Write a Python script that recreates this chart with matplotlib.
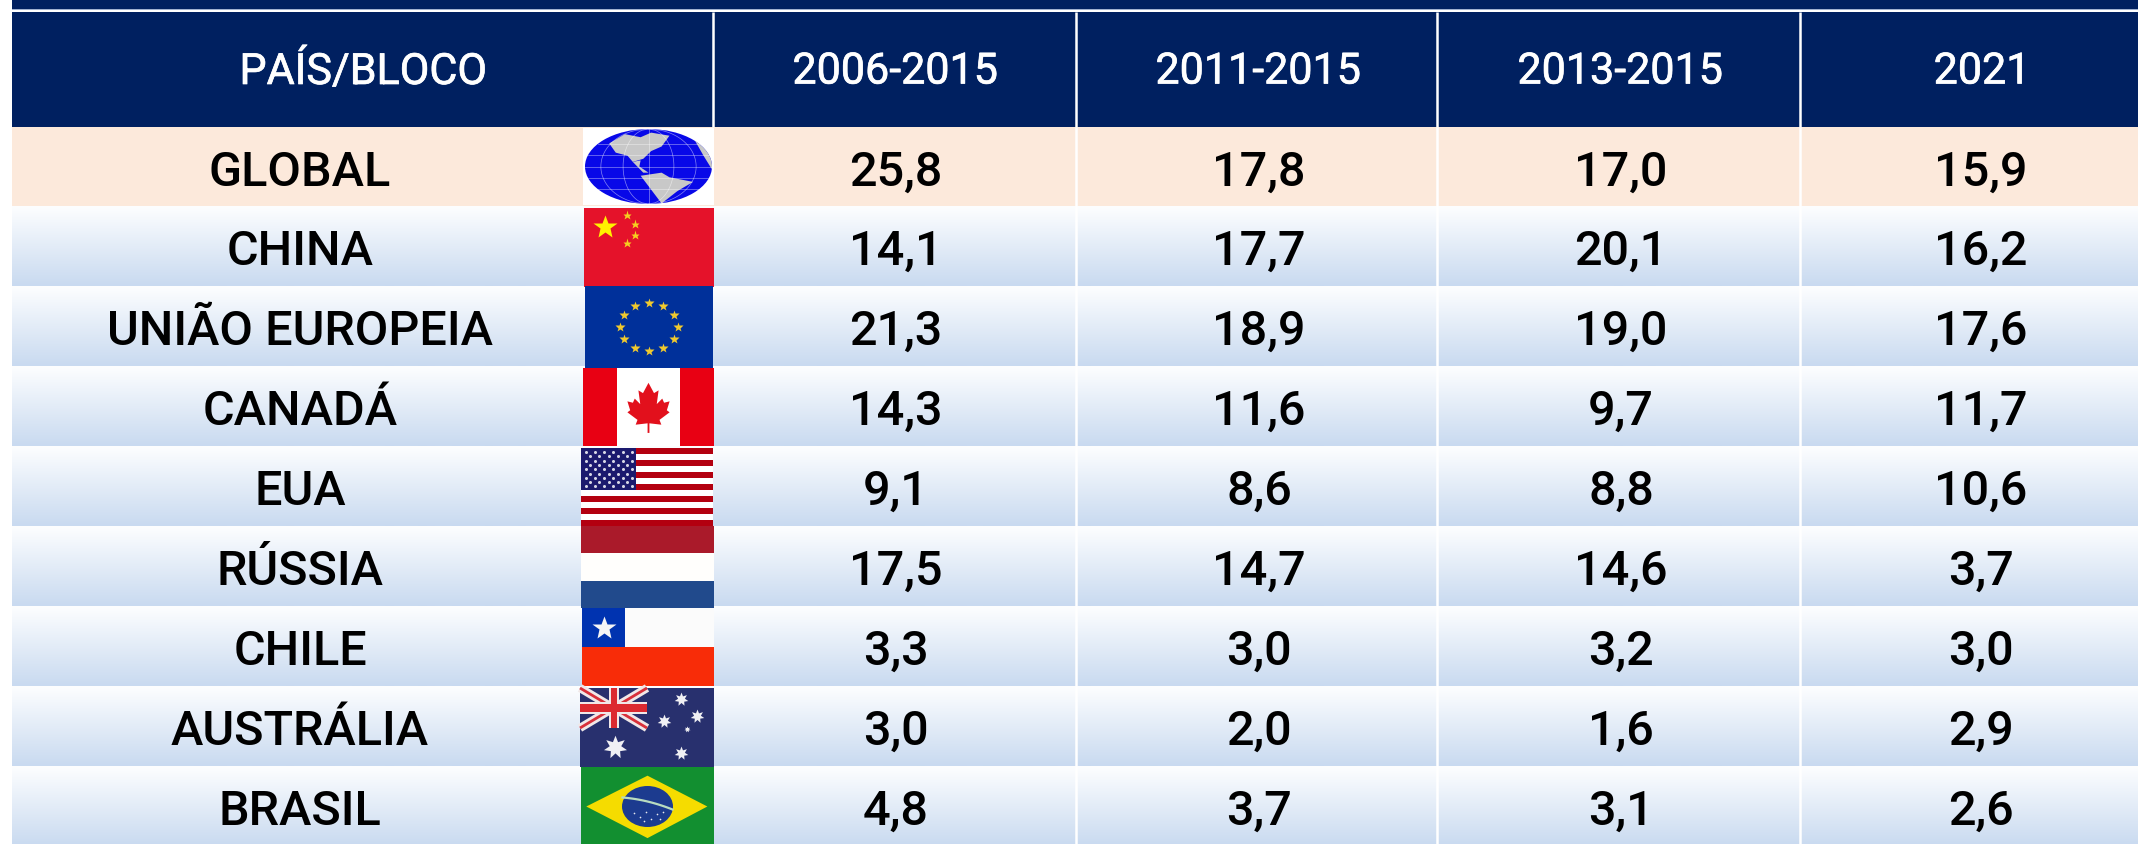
import matplotlib
matplotlib.use('Agg')
import matplotlib.pyplot as plt
from matplotlib.patches import Rectangle, Polygon, Ellipse
import matplotlib.patheffects as pe
import numpy as np

plt.rcParams['font.family'] = ['Roboto', 'DejaVu Sans']

headers = ['2006-2015', '2011-2015', '2013-2015', '2021']
countries = ['GLOBAL', 'CHINA', 'UNIÃO EUROPEIA', 'CANADÁ', 'EUA', 'RÚSSIA', 'CHILE', 'AUSTRÁLIA', 'BRASIL']
v_2006_2015 = ['25,8', '14,1', '21,3', '14,3', '9,1', '17,5', '3,3', '3,0', '4,8']
v_2011_2015 = ['17,8', '17,7', '18,9', '11,6', '8,6', '14,7', '3,0', '2,0', '3,7']
v_2013_2015 = ['17,0', '20,1', '19,0', '9,7', '8,8', '14,6', '3,2', '1,6', '3,1']
v_2021 = ['15,9', '16,2', '17,6', '11,7', '10,6', '3,7', '3,0', '2,9', '2,6']
columns = [v_2006_2015, v_2011_2015, v_2013_2015, v_2021]

W, H = 2138, 844
NAVY = '#002060'
row_edges = [127, 206, 286, 366, 446, 526, 606, 686, 766, 846]
col_lines = [713, 1076, 1437, 1800]
col_centers = [895, 1258, 1620, 1980]

fig = plt.figure(figsize=(W / 100, H / 100), dpi=100)
ax = fig.add_axes([0, 0, 1, 1])

grad = np.linspace(0, 1, 80).reshape(-1, 1)
top = np.array([253, 254, 255]) / 255
bot = np.array([201, 218, 240]) / 255
grad_img = (top + grad[..., None] * (bot - top))


def rect(x0, y0, x1, y1, color, z=2):
    ax.add_patch(Rectangle((x0, y0), x1 - x0, y1 - y0, fc=color, ec='none', zorder=z))


def poly(box, pts, color, z=4):
    x0, y0, x1, y1 = box
    xy = [(x0 + px * (x1 - x0), y0 + py * (y1 - y0)) for px, py in pts]
    return ax.add_patch(Polygon(xy, closed=True, fc=color, ec='none', zorder=z))


def star(box, fx, fy, size, color, marker='*'):
    x0, y0, x1, y1 = box
    ax.plot([x0 + fx * (x1 - x0)], [y0 + fy * (y1 - y0)], marker=marker, ms=size,
            color=color, mec='none', ls='none', zorder=6)


def flag_globe(box):
    x0, y0, x1, y1 = box
    rect(x0, y0, x1, y1, 'white', 3)
    cx, cy = (x0 + x1) / 2, (y0 + y1) / 2
    rx, ry = (x1 - x0) / 2 - 2, (y1 - y0) / 2 - 1
    ell = ax.add_patch(Ellipse((cx, cy), rx * 2, ry * 2, fc='#0808e8', ec='none', zorder=4))
    north = [(0.2, 0.2), (0.32, 0.08), (0.44, 0.12), (0.52, 0.06), (0.66, 0.1), (0.6, 0.24), (0.52, 0.3),
             (0.46, 0.4), (0.38, 0.44), (0.34, 0.36), (0.25, 0.32)]
    central = [(0.38, 0.44), (0.44, 0.42), (0.43, 0.5), (0.5, 0.58), (0.46, 0.58)]
    south = [(0.44, 0.62), (0.6, 0.58), (0.66, 0.64), (0.84, 0.7), (0.72, 0.82), (0.6, 0.98), (0.52, 0.8)]
    east = [(0.84, 0.12), (0.93, 0.2), (1.0, 0.42), (1.0, 0.58), (0.92, 0.36)]
    for shape in [north, central, south, east]:
        poly(box, shape, '#c8c8c8', 5).set_clip_path(ell)
    t = np.linspace(-1, 1, 60)
    for f in [-0.75, -0.4, 0, 0.4, 0.75]:
        ax.plot(cx + f * rx * np.sqrt(1 - t ** 2), cy + t * ry, color='white', lw=0.5, alpha=0.5, zorder=6)
    for f in [-0.6, -0.3, 0, 0.3, 0.6]:
        half = rx * np.sqrt(1 - f ** 2)
        ax.plot([cx - half, cx + half], [cy + f * ry, cy + f * ry], color='white', lw=0.5, alpha=0.5, zorder=6)


def flag_china(box):
    rect(*box, '#e5122a', 3)
    star(box, 0.16, 0.24, 18, '#fff200')
    for fx, fy in [(0.33, 0.09), (0.39, 0.2), (0.39, 0.34), (0.33, 0.44)]:
        star(box, fx, fy, 6.5, '#f5d020')


def flag_eu(box):
    rect(*box, '#00309a', 3)
    for a in range(12):
        ang = np.deg2rad(a * 30)
        star(box, 0.5 + 0.225 * np.sin(ang), 0.5 - 0.29 * np.cos(ang), 7.5, '#f0c92e')


def flag_canada(box):
    x0, y0, x1, y1 = box
    rect(x0, y0, x1, y1, '#e80013', 3)
    rect(617, y0, 680, y1, 'white', 4)
    leaf = [(0.5, 0.15), (0.44, 0.3), (0.39, 0.26), (0.41, 0.46), (0.35, 0.38), (0.33, 0.44), (0.27, 0.42),
            (0.3, 0.55), (0.27, 0.58), (0.38, 0.69), (0.36, 0.76), (0.49, 0.74), (0.49, 0.88), (0.51, 0.88),
            (0.51, 0.74), (0.64, 0.76), (0.62, 0.69), (0.73, 0.58), (0.7, 0.55), (0.73, 0.42), (0.67, 0.44),
            (0.65, 0.38), (0.59, 0.46), (0.61, 0.26), (0.56, 0.3)]
    leaf = [(0.5 + (px - 0.5) * 0.7, 0.19 + (py - 0.15) * 0.88) for px, py in leaf]
    poly(box, leaf, '#e2101c', 5)


def flag_usa(box):
    x0, y0, x1, y1 = box
    rect(x0, y0, x1, y1, 'white', 3)
    n = 13
    for i in range(0, n, 2):
        rect(x0, y0 + (y1 - y0) * i / n, x1, y0 + (y1 - y0) * (i + 1) / n, '#b30010', 4)
    rect(x0, y0, 636, 490, '#1c1a6e', 5)
    for r in range(9):
        cols = 6 if r % 2 == 0 else 5
        for c in range(cols):
            off = 4.5 if r % 2 == 0 else 9
            ax.plot([x0 + off + c * 9.3], [y0 + 4 + r * 4.3], marker='o', ms=2.2, color='#d8d8e6',
                    mec='none', zorder=6)


def flag_russia(box):
    x0, y0, x1, y1 = box
    th = (y1 - y0) / 3
    rect(x0, y0, x1, y0 + th, '#aa1a2a', 3)
    rect(x0, y0 + th, x1, y0 + 2 * th, '#fffefc', 3)
    rect(x0, y0 + 2 * th, x1, y1, '#214a8c', 3)


def flag_chile(box):
    x0, y0, x1, y1 = box
    rect(x0, y0, x1, 647, '#fbfbfb', 3)
    rect(x0, 647, x1, y1, '#f82c08', 3)
    rect(x0, y0, 625, 647, '#0033b0', 4)
    star(box, 0.165, 0.25, 18, '#f5f5f5')


def flag_australia(box):
    x0, y0, x1, y1 = box
    rect(x0, y0, x1, y1, '#28306e', 3)
    cx1, cy1 = 647, 728
    ax.plot([x0, cx1], [y0, cy1], color='#f0e8e8', lw=6, zorder=4, solid_capstyle='butt')
    ax.plot([x0, cx1], [cy1, y0], color='#f0e8e8', lw=6, zorder=4, solid_capstyle='butt')
    ax.plot([x0, cx1], [y0, cy1], color='#d8303a', lw=2, zorder=4, solid_capstyle='butt')
    ax.plot([x0, cx1], [cy1, y0], color='#d8303a', lw=2, zorder=4, solid_capstyle='butt')
    rect(609, y0, 619, cy1, '#f0e8e8', 5)
    rect(x0, 702, cx1, 714, '#f0e8e8', 5)
    rect(611, y0, 617, cy1, '#dc2a30', 6)
    rect(x0, 704, cx1, 712, '#dc2a30', 6)
    star_mark = (7, 1, 0)
    star(box, 0.26, 0.75, 17, '#f0f0f4', star_mark)
    star(box, 0.75, 0.14, 10, '#f0f0f4', star_mark)
    star(box, 0.63, 0.42, 10, '#f0f0f4', star_mark)
    star(box, 0.87, 0.35, 10, '#f0f0f4', star_mark)
    star(box, 0.8, 0.52, 4.5, '#f0f0f4', star_mark)
    star(box, 0.75, 0.82, 10, '#f0f0f4', star_mark)


def flag_brazil(box):
    x0, y0, x1, y1 = box
    rect(x0, y0, x1, y1, '#128f30', 3)
    poly(box, [(0.04, 0.5), (0.5, 0.11), (0.95, 0.5), (0.5, 0.9)], '#f5dc00')
    cx, cy = (x0 + x1) / 2, (y0 + y1) / 2
    ax.add_patch(Ellipse((cx, cy), 51, 41, fc='#1c3b8f', ec='none', zorder=5))
    t = np.linspace(-1, 1, 20)
    ax.plot(cx + t * 25, cy - 4 + 6 * t + 2 * t ** 2 - 1, color='#b8dcc0', lw=1.6, zorder=6)
    for fx, fy in [(-14, 6), (-8, 10), (-2, 5), (3, 12), (9, 7), (15, 5), (-4, 14), (12, 12)]:
        ax.plot([cx + fx], [cy + fy], marker='o', ms=1.2, color='#e8e8f0', mec='none', zorder=6)


flag_boxes = [(583, 128, 714, 205), (584, 208, 714, 287), (585, 286, 713, 368), (583, 368, 714, 446),
              (581, 448, 713, 526), (581, 526, 714, 608), (582, 608, 714, 686), (580, 688, 714, 767),
              (581, 767, 714, 846)]
flag_funcs = [flag_globe, flag_china, flag_eu, flag_canada, flag_usa, flag_russia, flag_chile, flag_australia,
              flag_brazil]

# cabecalho
rect(12, 0, W, 9, NAVY)
rect(12, 9, W, 10, '#9fb0d0')
rect(12, 12, W, row_edges[0], NAVY)
thick = [pe.withStroke(linewidth=0.5, foreground='white')]
ax.text(363, 72, 'PAÍS/BLOCO', color='white', fontsize=31, ha='center', va='center', zorder=8, path_effects=thick)
for name, x, dx in zip(headers, col_centers, [0, 0, 0, 2]):
    ax.text(x + dx, 72, name, color='white', fontsize=31, ha='center', va='center', zorder=8, path_effects=thick)

# linhas
for i, name in enumerate(countries):
    y0, y1 = row_edges[i], row_edges[i + 1]
    if i == 0:
        rect(12, y0, W, y1, '#fce9db', 1)
    else:
        ax.imshow(grad_img, extent=(12, W, y1, y0), aspect='auto', zorder=1, interpolation='bilinear')
    ym = (y0 + y1) / 2 + 6
    ax.text(300, ym, name, color='black', fontsize=35, fontweight='medium', ha='center', va='center', zorder=8)
    for col, x in zip(columns, col_centers):
        ax.text(x + 1, ym, col[i], color='black', fontsize=35, fontweight='medium', ha='center', va='center',
                zorder=8)
    flag_funcs[i](flag_boxes[i])

for x in col_lines:
    ax.plot([x, x], [12, row_edges[0]], color='white', lw=1.8, zorder=2, solid_capstyle='butt')
    if x != col_lines[0]:
        ax.plot([x, x], [row_edges[0], H], color='white', lw=1.8, zorder=2, solid_capstyle='butt')

ax.set_xlim(0, W)
ax.set_ylim(H, 0)
ax.axis('off')
fig.savefig('out.png', dpi=100, facecolor='white')
